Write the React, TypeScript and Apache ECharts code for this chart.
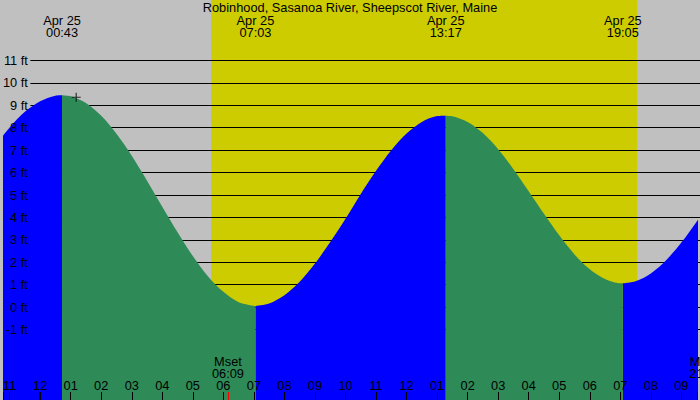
import React, { useEffect, useRef } from 'react';
import * as echarts from 'echarts';

// ---------- data ----------
const chartTitle = 'Robinhood, Sasanoa River, Sheepscot River, Maine';
const dateLabel = 'Apr 25';

const extremeTimes = ['00:43', '07:03', '13:17', '19:05'];
const extremeTypes = ['H', 'L', 'H', 'L'];
const extremeFeet = [9.45, 0.05, 8.54, 1.06];

const tideHours = [
  -1.5, -1, -0.5, 0, 0.5,
  1, 1.5, 2, 2.5, 3, 3.5, 4, 4.5, 5, 5.5, 6, 6.5,
  7.5, 8, 8.5, 9, 9.5, 10, 10.5, 11, 11.5, 12, 12.5, 13,
  13.5, 14, 14.5, 15, 15.5, 16, 16.5, 17, 17.5, 18, 18.5, 19,
  19.5, 20, 20.5, 21, 21.5, 22,
];
const tideFeet = [
  7.14, 8.01, 8.71, 9.18, 9.43,
  9.40, 9.10, 8.53, 7.73, 6.75, 5.64, 4.48, 3.34, 2.28, 1.37, 0.68, 0.22,
  0.16, 0.53, 1.13, 1.94, 2.90, 3.94, 5.05, 6.08, 7.0, 7.74, 8.26, 8.52,
  8.51, 8.26, 7.76, 7.04, 6.15, 5.17, 4.16, 3.20, 2.35, 1.69, 1.25, 1.06,
  1.15, 1.50, 2.09, 2.88, 3.81, 4.82,
];

const sunriseTime = '05:36';
const sunsetTime = '19:33';

const moonNames = ['Mset', 'Mrise'];
const moonTimes = ['06:09', '21:47'];

const crossMarker = [1.18, 9.36];

const feetMin = -1;
const feetMax = 11;

// ---------- layout ----------
const W = 700;
const H = 400;
const PX_PER_HOUR = 30.82;
const MIDNIGHT_X = 37;
const ZERO_FT_Y = 307.1;
const PX_PER_FT = 22.42;

const X_MIN = -MIDNIGHT_X / PX_PER_HOUR;
const X_MAX = (W - MIDNIGHT_X) / PX_PER_HOUR;
const Y_MAX = ZERO_FT_Y / PX_PER_FT;
const Y_MIN = -(H - ZERO_FT_Y) / PX_PER_FT;

const FONT = 'Liberation Sans, Arial, Helvetica, sans-serif';
const FS = 12.8;

const toHours = (s: string) => {
  const [h, m] = s.split(':').map(Number);
  return h + m / 60;
};

function buildSeries() {
  const ext = extremeTimes.map((t, i) => ({ t: toHours(t), v: extremeFeet[i], type: extremeTypes[i] }));
  const bounds = [-Infinity, ...ext.map((e) => e.t), Infinity];
  const rise: any[] = [];
  const fall: any[] = [];
  for (let s = 0; s < bounds.length - 1; s++) {
    const lo = bounds[s];
    const hi = bounds[s + 1];
    const pts: any[] = [];
    if (s > 0) pts.push([ext[s - 1].t, ext[s - 1].v]);
    tideHours.forEach((h, i) => {
      if (h > lo && h < hi) pts.push([h, tideFeet[i]]);
    });
    if (s < ext.length) pts.push([ext[s].t, ext[s].v]);
    const rising = s < ext.length ? ext[s].type === 'H' : ext[s - 1].type === 'L';
    const target = rising ? rise : fall;
    if (target.length) {
      const prevEnd = target[target.length - 1][0];
      target.push([(prevEnd + pts[0][0]) / 2, null]);
    }
    pts.forEach((p) => target.push(p));
  }
  return { rise, fall, ext };
}

const hourLabel = (v: number) => {
  if (Math.abs(v - Math.round(v)) > 1e-6) return '';
  const r = Math.round(v);
  const h = (((r % 12) + 12) % 12) || 12;
  return h < 10 ? '0' + h : String(h);
};

export default function App() {
  const ref = useRef<HTMLDivElement>(null);

  useEffect(() => {
    if (!ref.current) return;
    const chart = echarts.init(ref.current, undefined, { renderer: 'svg' });
    const { rise, fall, ext } = buildSeries();

    const option: any = {
      animation: false,
      backgroundColor: '#c0c0c0',
      textStyle: { fontFamily: FONT },
      title: {
        text: chartTitle,
        left: 'center',
        top: 0,
        padding: 0,
        textStyle: { fontSize: FS, fontWeight: 'normal', color: '#000', fontFamily: FONT, lineHeight: 14 },
      },
      grid: [
        { left: 0, right: 0, top: 0, bottom: 0 },
        {
          left: 29,
          right: 0,
          top: ZERO_FT_Y - feetMax * PX_PER_FT,
          bottom: H - (ZERO_FT_Y - feetMin * PX_PER_FT),
        },
      ],
      xAxis: [
        {
          type: 'value',
          gridIndex: 0,
          position: 'bottom',
          min: X_MIN,
          max: X_MAX,
          minInterval: 1,
          maxInterval: 1,
          z: 3,
          splitLine: { show: false },
          axisLine: { show: false, onZero: false },
          axisTick: { show: true, inside: true, length: 8, lineStyle: { color: '#000', width: 1 } },
          axisLabel: {
            show: true,
            inside: true,
            margin: 8,
            color: '#000',
            fontSize: FS,
            fontFamily: FONT,
            formatter: hourLabel,
            showMinLabel: true,
            showMaxLabel: true,
          },
        },
        { type: 'value', gridIndex: 1, min: X_MIN, max: X_MAX, show: false },
      ],
      yAxis: [
        { type: 'value', gridIndex: 0, min: Y_MIN, max: Y_MAX, show: false },
        {
          type: 'value',
          gridIndex: 1,
          position: 'left',
          min: feetMin,
          max: feetMax,
          interval: 1,
          z: 1,
          axisLine: { show: false },
          axisTick: { show: false },
          axisLabel: { show: false },
          splitLine: { show: true, lineStyle: { color: '#000', width: 1 } },
        },
        {
          type: 'value',
          gridIndex: 1,
          position: 'left',
          offset: 0,
          min: feetMin,
          max: feetMax,
          interval: 1,
          z: 3,
          axisLine: { show: false },
          axisTick: { show: false },
          splitLine: { show: false },
          axisLabel: {
            show: true,
            margin: 2.5,
            color: '#000',
            fontSize: FS,
            fontFamily: FONT,
            formatter: '{value} ft',
          },
        },
      ],
      series: [
        {
          name: 'rising',
          type: 'line',
          xAxisIndex: 0,
          yAxisIndex: 0,
          data: rise,
          smooth: 0.3,
          connectNulls: false,
          symbol: 'none',
          z: 2,
          lineStyle: { width: 0, color: '#0000ff' },
          areaStyle: { color: '#0000ff', opacity: 1, origin: 'start' },
          markArea: {
            silent: true,
            z: 0,
            itemStyle: { color: '#cccc00', opacity: 1 },
            data: [[{ xAxis: toHours(sunriseTime) }, { xAxis: toHours(sunsetTime) }]],
          },
          markPoint: {
            silent: true,
            symbol: 'rect',
            symbolSize: 1,
            itemStyle: { color: 'rgba(0,0,0,0)' },
            label: {
              show: true,
              position: 'inside',
              formatter: '{b}',
              color: '#000',
              fontSize: FS,
              fontFamily: FONT,
              lineHeight: 12,
            },
            data: [
              ...ext.map((e, i) => ({ name: dateLabel + '\n' + extremeTimes[i], xAxis: e.t, y: 26 })),
              ...moonNames.map((n, i) => ({ name: n + '\n' + moonTimes[i], xAxis: toHours(moonTimes[i]), y: 367.5 })),
            ],
          },
          markLine: {
            silent: true,
            symbol: ['none', 'none'],
            label: { show: false },
            data: [
              [
                { xAxis: 0, y: 392, lineStyle: { color: '#000', width: 2, type: 'solid' } },
                { xAxis: 0, y: 400 },
              ],
              ...moonTimes.map((t) => [
                { xAxis: toHours(t), y: 392, lineStyle: { color: '#ff0000', width: 1, type: 'solid' } },
                { xAxis: toHours(t), y: 400 },
              ]),
            ],
          },
        },
        {
          name: 'falling',
          type: 'line',
          xAxisIndex: 0,
          yAxisIndex: 0,
          data: fall,
          smooth: 0.3,
          connectNulls: false,
          symbol: 'none',
          z: 2,
          lineStyle: { width: 0, color: '#2e8b57' },
          areaStyle: { color: '#2e8b57', opacity: 1, origin: 'start' },
        },
        {
          name: 'marker',
          type: 'scatter',
          xAxisIndex: 0,
          yAxisIndex: 0,
          z: 4,
          data: [crossMarker],
          symbol: 'path://M3.5,0h1v3.5h3.5v1h-3.5v3.5h-1v-3.5h-3.5v-1h3.5z',
          symbolSize: 9,
          itemStyle: { color: '#000' },
        },
      ],
    };

    chart.setOption(option);
    return () => chart.dispose();
  }, []);

  return (
    <div
      ref={ref}
      style={{ position: 'fixed', left: 0, top: 0, width: W, height: H }}
    />
  );
}
